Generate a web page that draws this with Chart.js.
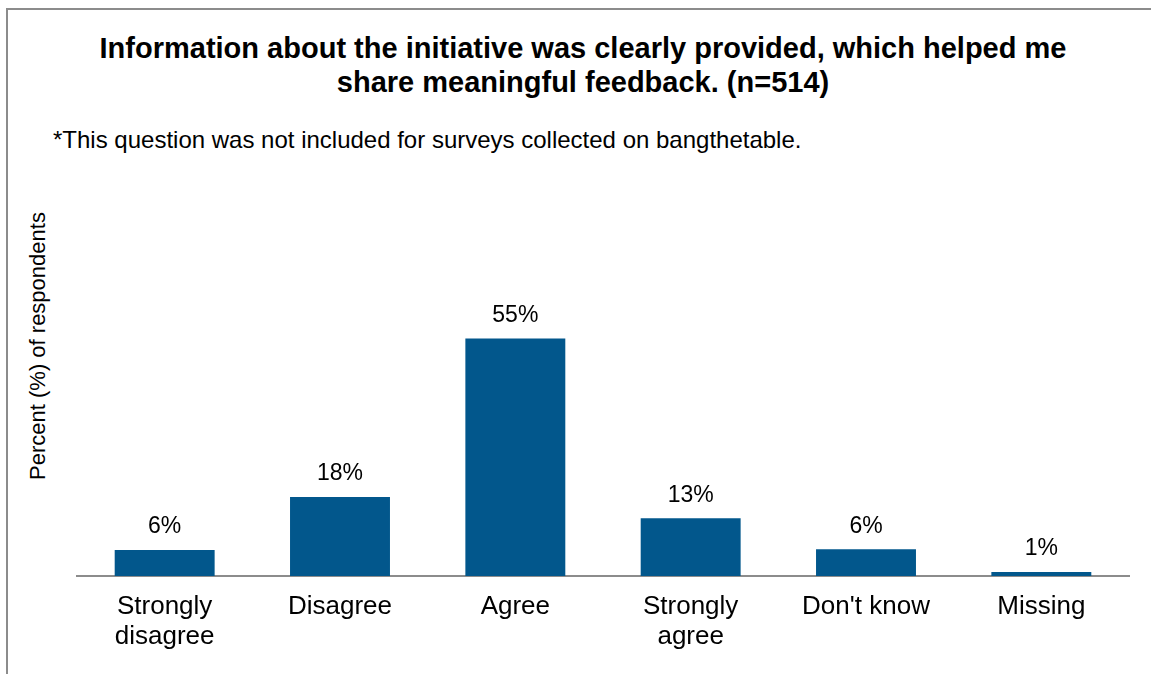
<!DOCTYPE html>
<html>
<head>
    <meta charset="utf-8">
    <title>Information about the initiative</title>
    <style>
        html, body { margin: 0; padding: 0; background: #fff; }
        body { width: 1151px; height: 674px; position: relative; overflow: hidden; font-family: "Liberation Sans", Arial, sans-serif; color: #000; }
        .frame { position: absolute; left: 6px; top: 8px; width: 1200px; height: 700px; border-left: 2px solid #8c8c8c; border-top: 2px solid #8c8c8c; }
        .title { position: absolute; left: 0; width: 1166px; top: 31px; text-align: center; font-weight: bold; font-size: 29px; line-height: 34px; white-space: nowrap; }
        .note { position: absolute; left: 53px; top: 126px; font-size: 24px; line-height: 28px; white-space: nowrap; }
        .ytitle { position: absolute; left: 38px; top: 346px; font-size: 22px; white-space: nowrap; transform: translate(-50%, -50%) rotate(-90deg); }
        .chart-box { position: absolute; left: 0; top: 0; width: 1151px; height: 674px; }
    </style>
</head>
<body>
    <div class="frame"></div>
    <div class="title">Information about the initiative was clearly provided, which helped me<br>share meaningful feedback. (n=514)</div>
    <div class="note">*This question was not included for surveys collected on bangthetable.</div>
    <div class="ytitle">Percent (%) of respondents</div>
    <div class="chart-box"><canvas id="surveyChart"></canvas></div>

    <script src="https://cdn.jsdelivr.net/npm/chart.js"></script>
    <script>
        const categories = [['Strongly', 'disagree'], 'Disagree', 'Agree', ['Strongly', 'agree'], "Don't know", 'Missing'];
        const percents = [6.0, 18.3, 55.0, 13.4, 6.2, 0.9];
        const percentLabels = ['6%', '18%', '55%', '13%', '6%', '1%'];

        // draws the % text above each bar
        const barLabels = {
            id: 'barLabels',
            afterDatasetsDraw(chart) {
                const ctx = chart.ctx;
                const meta = chart.getDatasetMeta(0);
                ctx.save();
                ctx.font = '23px "Liberation Sans", Arial, sans-serif';
                ctx.fillStyle = '#000';
                ctx.textAlign = 'center';
                ctx.textBaseline = 'middle';
                meta.data.forEach((bar, i) => {
                    ctx.fillText(percentLabels[i], bar.x, bar.y - 23);
                });
                ctx.restore();
            }
        };

        const ctx = document.getElementById('surveyChart').getContext('2d');
        new Chart(ctx, {
            type: 'bar',
            data: {
                labels: categories,
                datasets: [{
                    data: percents,
                    backgroundColor: '#02578c',
                    barPercentage: 0.57,
                    categoryPercentage: 1.0
                }]
            },
            options: {
                responsive: true,
                maintainAspectRatio: false,
                animation: false,
                layout: { padding: { left: 77, right: 22, top: 317, bottom: 0 } },
                plugins: {
                    legend: { display: false },
                    tooltip: { enabled: false }
                },
                scales: {
                    x: {
                        grid: { display: false, drawTicks: false },
                        border: { color: '#8c8c8c', width: 2 },
                        ticks: {
                            color: '#000',
                            padding: 16,
                            maxRotation: 0,
                            autoSkip: false,
                            font: { family: '"Liberation Sans", Arial, sans-serif', size: 26, lineHeight: 1.15 }
                        },
                        afterFit(scale) { scale.height = 98; }
                    },
                    y: {
                        display: false,
                        min: 0,
                        max: 60
                    }
                }
            },
            plugins: [barLabels]
        });
    </script>
</body>
</html>
